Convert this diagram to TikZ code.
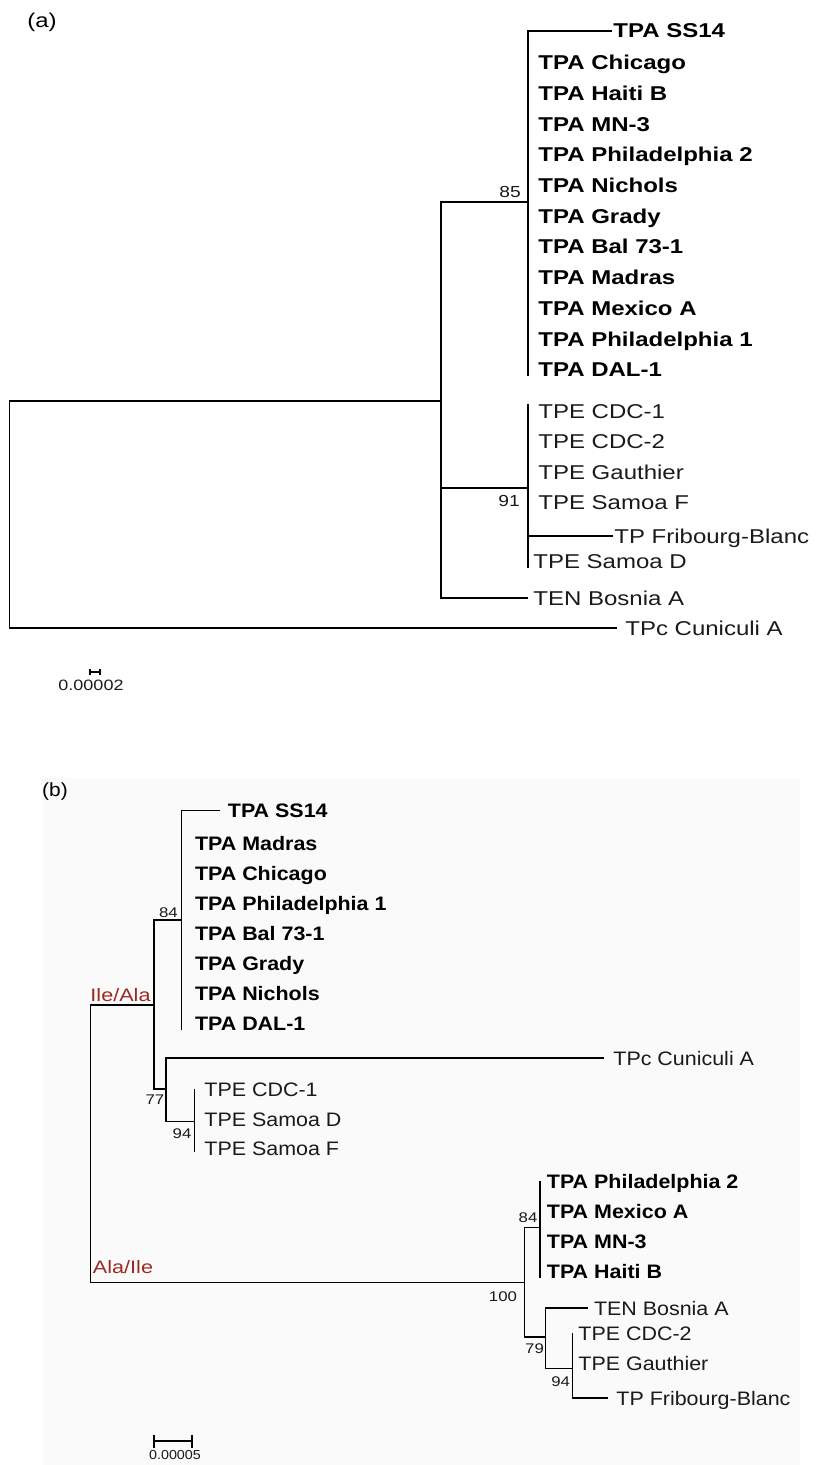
\documentclass[tikz,border=0pt]{standalone}
\usepackage{fontspec}
\newfontfamily\fonta{Liberation Sans}[FakeStretch=1.2]
\newfontfamily\fontb{Liberation Sans}[FakeStretch=1.1]
\definecolor{treeRed}{HTML}{9B2B22}
\definecolor{panelBg}{HTML}{FAFAFA}
\definecolor{tipGray}{HTML}{1A1A1A}
\usepackage{tikz}
\usetikzlibrary{arrows.meta}

\begin{document}
\begin{tikzpicture}[x=0.5pt, y=-0.5pt,
  tipa/.style={anchor=west, inner sep=0pt, text height=7pt, text depth=0pt,
    text=tipGray, font=\fonta\fontsize{10}{12}\selectfont},
  tipab/.style={tipa, text=black, font=\fonta\bfseries\fontsize{10}{12}\selectfont},
  tipb/.style={tipa, font=\fontb\fontsize{9.75}{12}\selectfont},
  tipbb/.style={tipa, text=black, font=\fontb\bfseries\fontsize{9.75}{12}\selectfont},
  boot/.style={inner sep=0pt, text=tipGray, font=\fonta\fontsize{8}{10}\selectfont},
  bootb/.style={boot, font=\fonta\fontsize{7}{9}\selectfont},
  subst/.style={inner sep=0pt, text=treeRed, font=\fonta\fontsize{9}{11}\selectfont},
  panel/.style={inner sep=0pt, font=\fonta\fontsize{10}{12}\selectfont},
  brancha/.style={line width=0.9pt},
  branchb/.style={line width=0.75pt},
  scalebar/.style={{Bar[width=#1]}-{Bar[width=#1]}, line width=0.8pt}]

  \useasboundingbox (0,0) rectangle (816,1465);

  % (a)
  \node[panel] (labA) at (42,22) {(a)};

  \coordinate (rA) at (9.5,514);
  \coordinate (nA) at (441,400.7);
  \coordinate (n85) at (528,201.7);
  \coordinate (n91) at (528,488);

  \node[tipab] (ss14A) at (613,30.7) {TPA SS14};
  \node[tipab] (chicagoA) at (538,63) {TPA Chicago};
  \node[tipab] (haitiA) at (538,94) {TPA Haiti B};
  \node[tipab] (mn3A) at (538,125) {TPA MN-3};
  \node[tipab] (phil2A) at (538,155) {TPA Philadelphia 2};
  \node[tipab] (nicholsA) at (538,186) {TPA Nichols};
  \node[tipab] (gradyA) at (538,217) {TPA Grady};
  \node[tipab] (balA) at (538,247) {TPA Bal 73-1};
  \node[tipab] (madrasA) at (538,278) {TPA Madras};
  \node[tipab] (mexicoA) at (538,308) {TPA Mexico A};
  \node[tipab] (phil1A) at (538,339) {TPA Philadelphia 1};
  \node[tipab] (dalA) at (538,369) {TPA DAL-1};

  \node[tipa] (cdc1A) at (538,411) {TPE CDC-1};
  \node[tipa] (cdc2A) at (538,441) {TPE CDC-2};
  \node[tipa] (gauthierA) at (538,472) {TPE Gauthier};
  \node[tipa] (samoafA) at (538,502) {TPE Samoa F};
  \node[tipa] (fribA) at (614,536) {TP Fribourg-Blanc};
  \node[tipa] (samoadA) at (533,561) {TPE Samoa D};
  \node[tipa] (bosniaA) at (533,598) {TEN Bosnia A};
  \node[tipa] (tpcA) at (625,628) {TPc Cuniculi A};

  \node[boot] (bs85) at (510,192) {85};
  \node[boot] (bs91) at (509,501) {91};

  \draw[brancha] ([xshift=-0.5pt]ss14A.west) -| (n85) -- (n85 |- dalA.south);
  \draw[brancha] (n85) -| (nA) |- ([xshift=-2.5pt]bosniaA.west);
  \draw[brancha] (cdc1A.north -| n91) -- (samoadA.south -| n91);
  \draw[brancha] (n91) |- ([xshift=-0.5pt]fribA.west);
  \draw[brancha] (n91) -| (nA);
  \draw[brancha] (nA) -| (rA) |- ([xshift=-4pt]tpcA.west);

  \coordinate (sa1) at (89,672);
  \coordinate (sa2) at (101,672);
  \draw[scalebar=3pt] (sa1) -- (sa2);
  \node[inner sep=0pt, text=tipGray, font=\fonta\fontsize{7.5}{9}\selectfont] (slA) at (91,685) {0.00002};

  % (b)
  \fill[panelBg] (42,778) rectangle (800,1465);
  \node[inner sep=0pt, font=\fontb\fontsize{9.5}{11}\selectfont] (labB) at (55,792) {(b)};

  \coordinate (rB) at (90.5,1144);
  \coordinate (nIle) at (154,1005);
  \coordinate (n84b) at (181.5,920);
  \coordinate (n77) at (166,1089);
  \coordinate (n94b) at (194.6,1121.7);
  \coordinate (nAla) at (524.6,1282.7);
  \coordinate (n84c) at (540,1227.7);
  \coordinate (n79) at (545.5,1337);
  \coordinate (n94c) at (572.7,1368.7);

  \node[tipbb] (ss14B) at (227.5,810.7) {TPA SS14};
  \node[tipbb] (madrasB) at (194.6,843) {TPA Madras};
  \node[tipbb] (chicagoB) at (194.6,873) {TPA Chicago};
  \node[tipbb] (phil1B) at (194.6,903) {TPA Philadelphia 1};
  \node[tipbb] (balB) at (194.6,933) {TPA Bal 73-1};
  \node[tipbb] (gradyB) at (194.6,963) {TPA Grady};
  \node[tipbb] (nicholsB) at (194.6,993) {TPA Nichols};
  \node[tipbb] (dalB) at (194.6,1023) {TPA DAL-1};

  \node[tipb] (tpcB) at (613,1058) {TPc Cuniculi A};
  \node[tipb] (cdc1B) at (204,1089) {TPE CDC-1};
  \node[tipb] (samoadB) at (204,1119) {TPE Samoa D};
  \node[tipb] (samoafB) at (204,1148) {TPE Samoa F};

  \node[tipbb] (phil2B) at (546.5,1181) {TPA Philadelphia 2};
  \node[tipbb] (mexicoB) at (546.5,1211) {TPA Mexico A};
  \node[tipbb] (mn3B) at (546.5,1241) {TPA MN-3};
  \node[tipbb] (haitiB) at (546.5,1271) {TPA Haiti B};

  \node[tipb] (bosniaB) at (593.6,1308) {TEN Bosnia A};
  \node[tipb] (cdc2B) at (578,1333) {TPE CDC-2};
  \node[tipb] (gauthierB) at (578,1363) {TPE Gauthier};
  \node[tipb] (fribB) at (616,1398) {TP Fribourg-Blanc};

  \node[bootb] (bs84b) at (168.4,912.7) {84};
  \node[bootb] (bs77) at (155,1100) {77};
  \node[bootb] (bs94b) at (182,1134) {94};
  \node[bootb] (bs100) at (503,1296.7) {100};
  \node[bootb] (bs84c) at (528,1218) {84};
  \node[bootb] (bs79) at (534.5,1349) {79};
  \node[bootb] (bs94c) at (560.7,1381.7) {94};

  \node[subst] (ileala) at (120.5,995) {Ile/Ala};
  \node[subst] (alaile) at (123,1267) {Ala/Ile};

  \draw[branchb] (n84b) -| (nIle) -| (rB) |- (nAla);
  \draw[branchb] (nIle) |- (n77);
  \draw[branchb] ([xshift=-4pt]ss14B.west) -| (n84b) -- (n84b |- dalB.south);
  \draw[branchb] (n77) |- ([xshift=-4.5pt]tpcB.west);
  \draw[branchb] (n77) |- (n94b);
  \draw[branchb] (cdc1B.west -| n94b) -- ([yshift=-2pt]samoafB.west -| n94b);
  \draw[branchb] (nAla) |- (n84c);
  \draw[branchb] (phil2B.west -| n84c) -- (haitiB.south -| n84c);
  \draw[branchb] (nAla) |- (n79);
  \draw[branchb] ([xshift=-3pt]bosniaB.west) -| (n79) |- (n94c);
  \draw[branchb] (cdc2B.west -| n94c) -- (n94c) |- ([xshift=-4pt]fribB.west);

  \coordinate (sb1) at (153,1441);
  \coordinate (sb2) at (192.7,1441);
  \draw[scalebar=6.5pt] (sb1) -- (sb2);
  \node[inner sep=0pt, text=tipGray, font=\fontb\fontsize{6.5}{8}\selectfont] (slB) at (175,1455) {0.00005};
\end{tikzpicture}
\end{document}
